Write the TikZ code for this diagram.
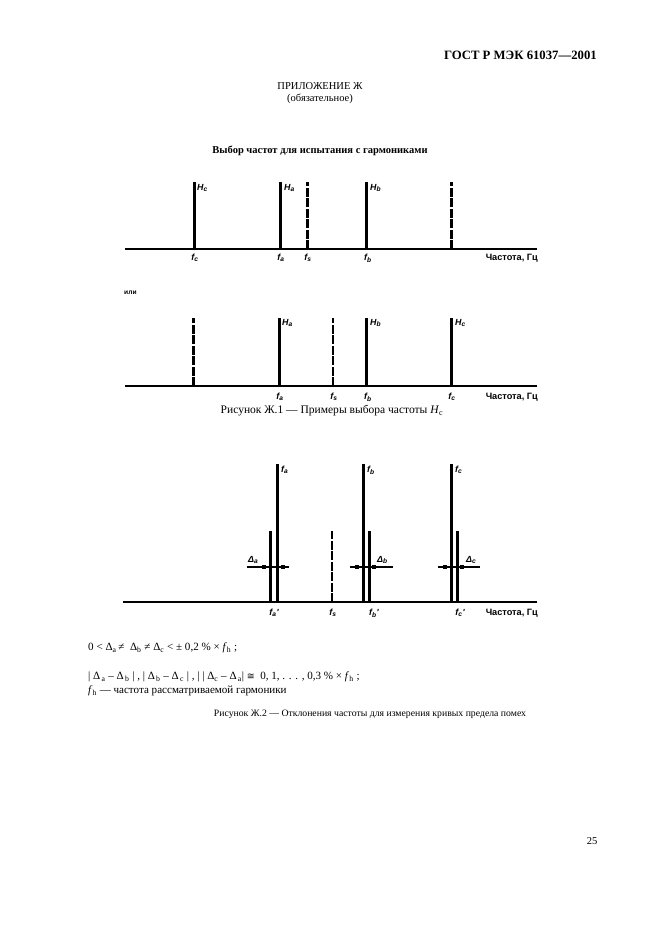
\documentclass[tikz,border=0pt]{standalone}
\usepackage{fontspec}
\setmainfont{Liberation Serif}
\newfontfamily\lsans{Liberation Sans}
\newfontfamily\dvs{DejaVu Sans}
\begin{document}
\begin{tikzpicture}[x=0.9bp,y=-0.9bp,
  stem/.style={line width=2.7bp},
  dstem/.style={line width=2.7bp, dash pattern=on 8bp off 1.4bp},
  axisline/.style={line width=1.8bp},
  hline/.style={line width=1.6bp},
  tick/.style={fill=black, minimum width=4.2bp, minimum height=3bp, inner sep=0pt, draw=none},
  lab/.style={font=\lsans\bfseries\itshape\fontsize{8}{9}\selectfont, inner sep=0pt},
  axlab/.style={font=\lsans\bfseries\fontsize{8.3}{9}\selectfont, inner sep=0pt, anchor=east},
  txt/.style={font=\fontsize{9.5}{11}\selectfont, inner sep=0pt},
  frm/.style={font=\fontsize{10}{12}\selectfont, inner sep=0pt, anchor=west},
]
\useasboundingbox (0,0) rectangle (661,936);
\fill[white] (0,0) rectangle (661,936);

% header
\node[font=\bfseries\fontsize{11.5}{13}\selectfont, inner sep=0pt, anchor=east] (hdr) at (597,55) {ГОСТ Р МЭК 61037---2001};
\node[txt] (app) at (320,86) {ПРИЛОЖЕНИЕ Ж};
\node[txt] (oblig) at (320,99) {(обязательное)};
\node[font=\bfseries\fontsize{9.5}{11}\selectfont, inner sep=0pt] (title) at (320,151) {Выбор частот для испытания с гармониками};

% ---------- Figure 1, top ----------
\coordinate (a1s) at (125,249); \coordinate (a1e) at (537,249);
\draw[axisline] (a1s) -- (a1e);
\coordinate (t1b) at (194,249); \coordinate (t1t) at (194,182);
\coordinate (t2b) at (280,249); \coordinate (t2t) at (280,182);
\coordinate (t3b) at (307,249); \coordinate (t3t) at (307,182);
\coordinate (t4b) at (366,249); \coordinate (t4t) at (366,182);
\coordinate (t5b) at (451,249); \coordinate (t5t) at (451,182);
\draw[stem] (t1b) -- (t1t);
\draw[stem] (t2b) -- (t2t);
\draw[dstem] (t3b) -- (t3t);
\draw[stem] (t4b) -- (t4t);
\draw[dstem] (t5b) -- (t5t);
\node[lab, anchor=west] (Hc1) at (197,188) {H\textsubscript{c}};
\node[lab, anchor=west] (Ha1) at (284,188) {H\textsubscript{a}};
\node[lab, anchor=west] (Hb1) at (370,188) {H\textsubscript{b}};
\node[lab] (fc1) at (195,258) {f\textsubscript{c}};
\node[lab] (fa1) at (281,258) {f\textsubscript{a}};
\node[lab] (fs1) at (308,258) {f\textsubscript{s}};
\node[lab] (fb1) at (368,258) {f\textsubscript{b}};
\node[axlab] (ax1) at (538,258) {Частота, Гц};

\node[font=\lsans\bfseries\fontsize{6}{7}\selectfont, inner sep=0pt, anchor=west] (ili) at (124,293) {или};

% ---------- Figure 1, bottom ----------
\coordinate (a2s) at (125,386); \coordinate (a2e) at (537,386);
\draw[axisline] (a2s) -- (a2e);
\coordinate (u1b) at (193,386); \coordinate (u1t) at (193,318);
\coordinate (u2b) at (279,386); \coordinate (u2t) at (279,318);
\coordinate (u3b) at (333,386); \coordinate (u3t) at (333,318);
\coordinate (u4b) at (366,386); \coordinate (u4t) at (366,318);
\coordinate (u5b) at (451,386); \coordinate (u5t) at (451,318);
\draw[dstem] (u1b) -- (u1t);
\draw[stem] (u2b) -- (u2t);
\draw[dstem, line width=2bp] (u3b) -- (u3t);
\draw[stem] (u4b) -- (u4t);
\draw[stem] (u5b) -- (u5t);
\node[lab, anchor=west] (Ha2) at (282,323) {H\textsubscript{a}};
\node[lab, anchor=west] (Hb2) at (370,323) {H\textsubscript{b}};
\node[lab, anchor=west] (Hc2) at (455,323) {H\textsubscript{c}};
\node[lab] (fa2) at (280,397) {f\textsubscript{a}};
\node[lab] (fs2) at (334,397) {f\textsubscript{s}};
\node[lab] (fb2) at (368,397) {f\textsubscript{b}};
\node[lab] (fc2) at (452,397) {f\textsubscript{c}};
\node[axlab] (ax2) at (538,397) {Частота, Гц};

\node[font=\fontsize{10.4}{12}\selectfont, inner sep=0pt] (cap1) at (332,411) {Рисунок Ж.1 --- Примеры выбора частоты \textit{H}\textsubscript{c}};

% ---------- Figure 2 ----------
\coordinate (a3s) at (123,602); \coordinate (a3e) at (537,602);
\draw[axisline] (a3s) -- (a3e);
% tall lines
\coordinate (ta) at (277,464); \coordinate (tab) at (277,602);
\coordinate (tb) at (363,464); \coordinate (tbb) at (363,602);
\coordinate (tc) at (451,464); \coordinate (tcb) at (451,602);
\draw[stem] (tab) -- (ta);
\draw[stem] (tbb) -- (tb);
\draw[stem] (tcb) -- (tc);
% short lines
\coordinate (sa) at (270,531); \coordinate (sab) at (270,602);
\coordinate (sb) at (369,531); \coordinate (sbb) at (369,602);
\coordinate (sc) at (457.5,531); \coordinate (scb) at (457.5,602);
\draw[stem] (sab) -- (sa);
\draw[stem] (sbb) -- (sb);
\draw[stem] (scb) -- (sc);
% dashed f_s
\coordinate (fsT) at (332,531); \coordinate (fsB) at (332,602);
\draw[dstem, line width=2.2bp] (fsB) -- (fsT);
% deviation bars
\coordinate (da1) at (247,567); \coordinate (da2) at (289,567);
\coordinate (db1) at (350,567); \coordinate (db2) at (393,567);
\coordinate (dc1) at (438,567); \coordinate (dc2) at (480,567);
\draw[hline] (da1) -- (da2);
\draw[hline] (db1) -- (db2);
\draw[hline] (dc1) -- (dc2);
\node[tick] (ka1) at (264,567) {};
\node[tick] (ka2) at (283,567) {};
\node[tick] (kb1) at (357,567) {};
\node[tick] (kb2) at (374,567) {};
\node[tick] (kc1) at (445,567) {};
\node[tick] (kc2) at (462,567) {};
\node[lab, anchor=west] (Da) at (248,560) {Δ\textsubscript{a}};
\node[lab, anchor=west] (Db) at (377,560) {Δ\textsubscript{b}};
\node[lab, anchor=west] (Dc) at (466,560) {Δ\textsubscript{c}};
\node[lab, anchor=west] (fat) at (281,470) {f\textsubscript{a}};
\node[lab, anchor=west] (fbt) at (367,470) {f\textsubscript{b}};
\node[lab, anchor=west] (fct) at (455,470) {f\textsubscript{c}};
\node[lab] (fap) at (274,613) {f\textsubscript{a}'};
\node[lab] (fsp) at (333,613) {f\textsubscript{s}};
\node[lab] (fbp) at (374,613) {f\textsubscript{b}'};
\node[lab] (fcp) at (460,613) {f\textsubscript{c}'};
\node[axlab] (ax3) at (538,613) {Частота, Гц};

% formulas
\node[frm] (eq1) at (88,648)
 {0 < Δ\textsubscript{a}\,≠\ \ Δ\textsubscript{b} ≠ Δ\textsubscript{c} < ± 0,2 \% × \textit{f}\textsubscript{h} ;};
\node[frm] (eq2) at (88,677)
 {| Δ\textsubscript{\,a} – Δ\textsubscript{\,b} | , | Δ\textsubscript{\,b} – Δ\textsubscript{\,c} | , | | Δ\textsubscript{c} – Δ\textsubscript{\,a}| {\dvs\fontsize{8.5}{10}\selectfont ≅}\ \ 0, 1, . . . , 0,3 \% × \textit{f}\textsubscript{h} ;};
\node[frm] (eq3) at (88,691)
 {\textit{f}\textsubscript{h} --- частота рассматриваемой гармоники};

\node[font=\fontsize{8.8}{11}\selectfont, inner sep=0pt] (cap2) at (370,714) {Рисунок Ж.2 --- Отклонения частоты для измерения кривых предела помех};

\node[font=\fontsize{9.5}{11}\selectfont, inner sep=0pt] (pg) at (592,841) {25};
\end{tikzpicture}
\end{document}
